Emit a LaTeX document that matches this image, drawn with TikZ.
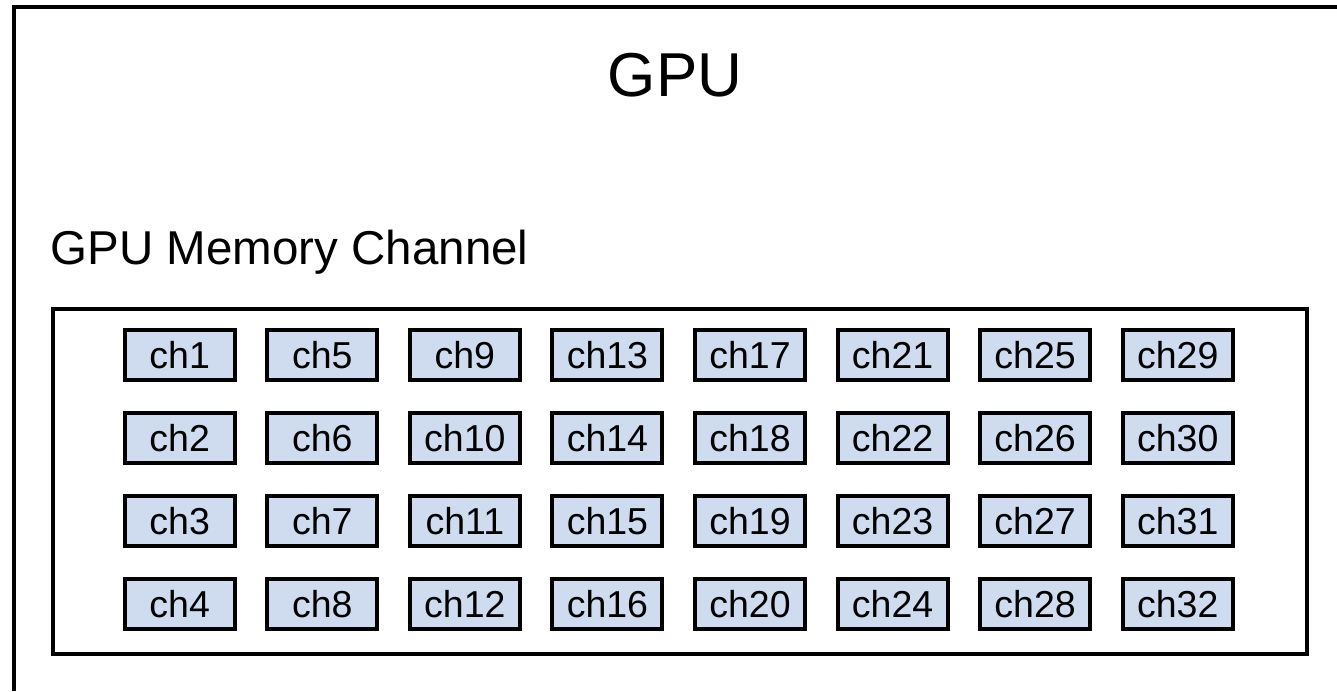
\documentclass[tikz,border=0pt]{standalone}
\usepackage{fontspec}
\setmainfont{Liberation Sans}
\definecolor{chfill}{RGB}{207,219,239}
\tikzset{
  frame/.style={draw=black, line width=4bp},
  chbox/.style={draw=black, line width=4bp, fill=chfill,
    minimum width=110bp, minimum height=50bp, inner sep=0pt,
    text height=27.6bp, text depth=0bp,
    font=\fontsize{37.5bp}{42bp}\selectfont},
}
\begin{document}
\begin{tikzpicture}[x=1bp,y=-1bp]
\useasboundingbox (0,0) rectangle (1337,691);
\fill[white] (0,0) rectangle (1337,691);

% GPU frame (left and top edges)
\coordinate (gpuBL) at (14,691);
\coordinate (gpuTL) at (14,7);
\coordinate (gpuTR) at (1337,7);
\draw[frame] (gpuBL) -- (gpuTL) -- (gpuTR);

\node[anchor=base, inner sep=0pt, font=\fontsize{62bp}{70bp}\selectfont] (title) at (675,96.7) {GPU};
\node[anchor=base west, inner sep=0pt, font=\fontsize{47.5bp}{54bp}\selectfont] (memlabel) at (50.5,264) {GPU Memory Channel};

% memory channel area
\node[frame, minimum width=1254.3bp, minimum height=345.3bp, inner sep=0pt] (memarea) at (679.85,481.35) {};

% 8 x 4 grid of channels
\foreach \c in {0,...,7} {
  \foreach \r in {0,...,3} {
    \pgfmathtruncatemacro\n{\c*4+\r+1}
    \node[chbox] (ch\n) at ({179.7+\c*142.57},{355+\r*83}) {ch\n};
  }
}
\end{tikzpicture}
\end{document}
